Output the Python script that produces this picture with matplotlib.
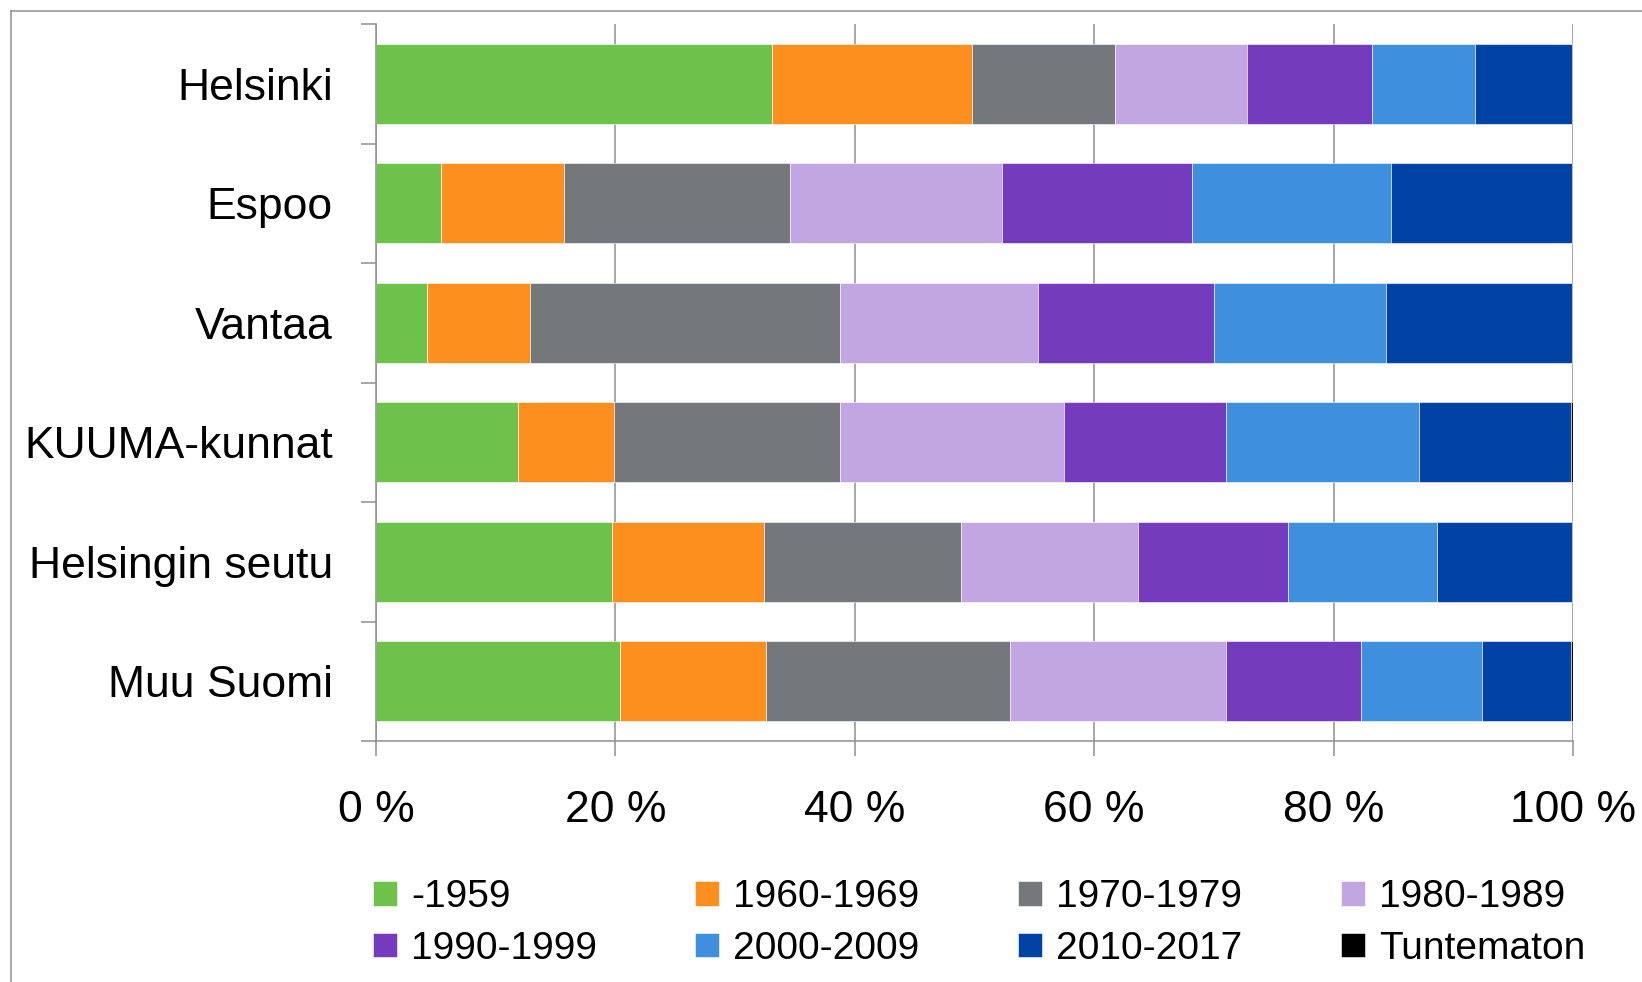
import matplotlib.pyplot as plt
from matplotlib.lines import Line2D
import numpy as np

plt.rcParams['font.family'] = ['Liberation Sans', 'DejaVu Sans']

# alueet ylhaalta alas
areas = ['Helsinki', 'Espoo', 'Vantaa', 'KUUMA-kunnat', 'Helsingin seutu', 'Muu Suomi']
periods = ['-1959', '1960-1969', '1970-1979', '1980-1989',
           '1990-1999', '2000-2009', '2010-2017', 'Tuntematon']

# osuudet (%) rakennusvuoden mukaan
p_1959 = [33.1, 5.4, 4.3, 11.9, 19.7, 20.4]
p_1960 = [16.7, 10.3, 8.6, 8.0, 12.7, 12.2]
p_1970 = [11.9, 18.9, 25.9, 18.9, 16.5, 20.4]
p_1980 = [11.1, 17.7, 16.5, 18.7, 14.8, 18.0]
p_1990 = [10.4, 15.9, 14.7, 13.5, 12.5, 11.3]
p_2000 = [8.6, 16.6, 14.4, 16.1, 12.4, 10.1]
p_2010 = [8.1, 15.1, 15.5, 12.7, 11.3, 7.4]
p_unknown = [0.1, 0.1, 0.1, 0.2, 0.1, 0.2]

series = [p_1959, p_1960, p_1970, p_1980, p_1990, p_2000, p_2010, p_unknown]
colors = ['#6cc24a', '#fd8f1e', '#75787b', '#c2a6e1',
          '#753bbd', '#3e8fde', '#0042a6', '#000000']

xticks = [0, 20, 40, 60, 80, 100]
xticklabels = ['0 %', '20 %', '40 %', '60 %', '80 %', '100 %']

fig = plt.figure(figsize=(16.42, 9.82), dpi=100)
ax = fig.add_axes([376/1642, 1 - 741/982, 1197/1642, 717/982])

ypos = np.arange(len(areas))
left = np.zeros(len(areas))
bars = []
for vals, col, lab in zip(series, colors, periods):
    b = ax.barh(ypos, vals, left=left, height=0.67, color=col, label=lab,
                edgecolor='white', linewidth=0.4)
    bars.append(b)
    left += np.array(vals)

gcol = '#8f8f8f'
ax.set_xlim(0, 100)
ax.set_ylim(len(areas) - 0.5, -0.5)
ax.set_axisbelow(True)
ax.grid(axis='x', color=gcol, linewidth=1.1)

ax.set_xticks(xticks)
ax.set_xticklabels(xticklabels, fontsize=32)
ax.set_yticks(ypos)
ax.set_yticklabels(areas, fontsize=32)
ax.set_yticks(np.arange(len(areas) + 1) - 0.5, minor=True)

ax.tick_params(axis='x', length=10.8, width=1.1, color=gcol, pad=24.5)
ax.tick_params(axis='y', which='major', length=0, pad=31)
ax.tick_params(axis='y', which='minor', length=10.8, width=1.1, color=gcol)

for s in ['top', 'right']:
    ax.spines[s].set_visible(False)
for s in ['left', 'bottom']:
    ax.spines[s].set_color(gcol)
    ax.spines[s].set_linewidth(1.1)

# kaavion reunaviiva
fx = 10.5 / 1642
fy = 1 - 10.7 / 982
fig.add_artist(Line2D([fx, fx], [0, fy], transform=fig.transFigure, color=gcol, lw=1.1))
fig.add_artist(Line2D([fx, 1], [fy, fy], transform=fig.transFigure, color=gcol, lw=1.1))

# selite riveittain (matplotlib tayttaa sarakkeittain)
order = [0, 4, 1, 5, 2, 6, 3, 7]
ax.legend([bars[i] for i in order], [periods[i] for i in order],
          loc='center left', bbox_to_anchor=(372.8/1642, 1 - 923/982),
          bbox_transform=fig.transFigure, ncol=4, frameon=False, fontsize=28,
          handlelength=0.62, handleheight=0.59, handletextpad=0.36,
          columnspacing=2.53, labelspacing=0.39, borderpad=0, borderaxespad=0)

fig.savefig('out.png', dpi=100)
